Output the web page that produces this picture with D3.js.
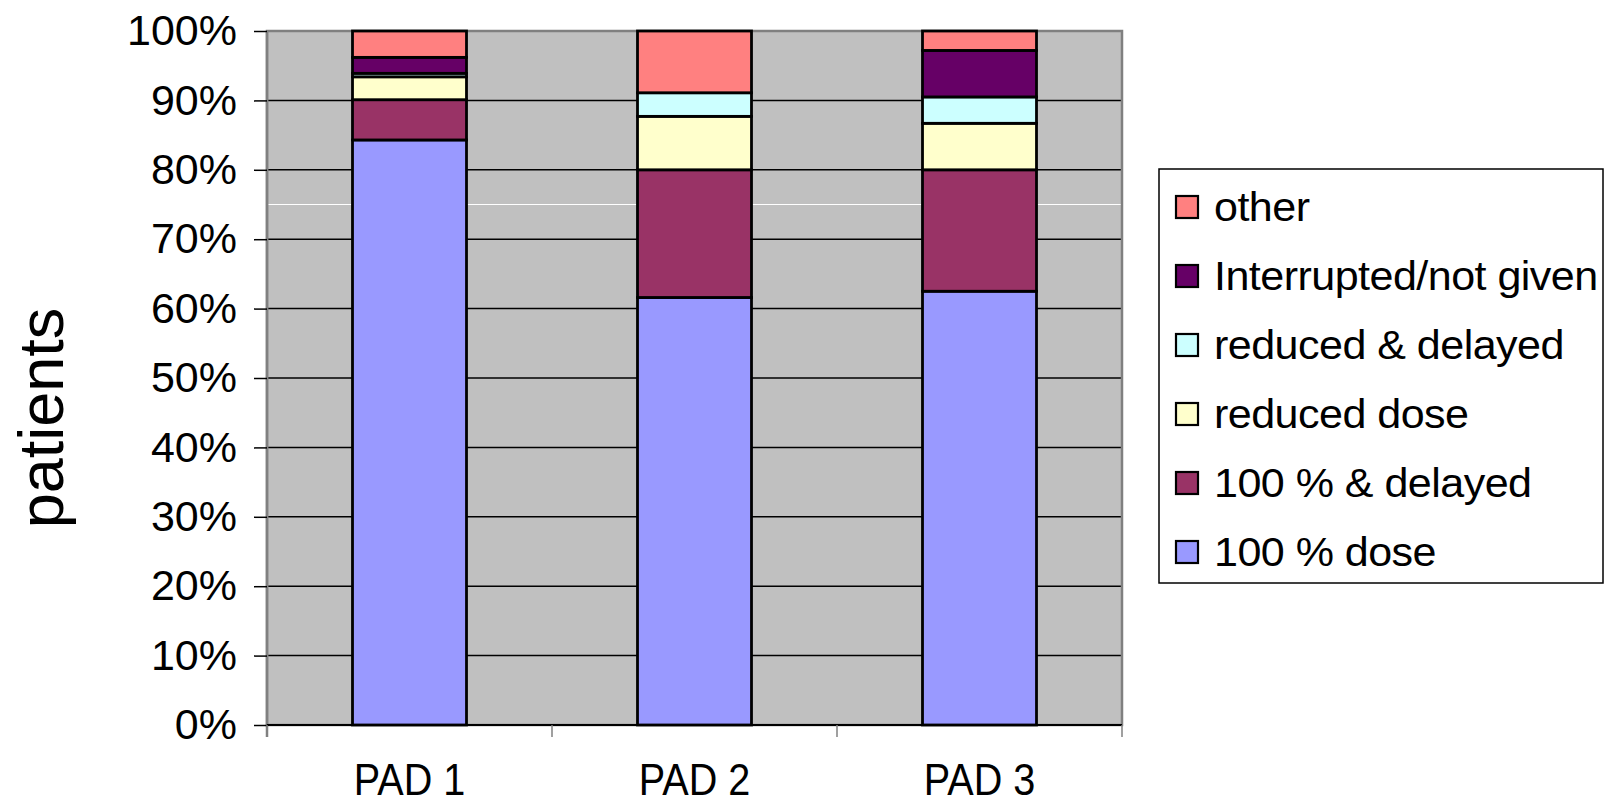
<!DOCTYPE html>
<html>
<head>
<meta charset="utf-8">
<script src="https://cdn.jsdelivr.net/npm/d3@7"></script>
<style>
  html, body { margin: 0; padding: 0; background: #ffffff; }
  svg { display: block; }
  text { font-family: "Liberation Sans", Arial, sans-serif; fill: #000; }
</style>
</head>
<body>
<svg id="chart" width="1610" height="805"></svg>
<script>
// Dose delivery per course, share of patients (%)
const categories = ["PAD 1", "PAD 2", "PAD 3"];
const seriesNames = ["100 % dose", "100 % & delayed", "reduced dose", "reduced & delayed", "Interrupted/not given", "other"];
const fullDose        = [84.3, 61.6, 62.5];
const fullDelayed     = [5.8, 18.4, 17.5];
const reducedDose     = [3.3, 7.7, 6.7];
const reducedDelayed  = [0.5, 3.4, 3.8];
const interrupted     = [2.3, 0.0, 6.7];
const other           = [3.8, 8.9, 2.8];
const yTicks = [0, 10, 20, 30, 40, 50, 60, 70, 80, 90, 100];
const colors = ["#9999ff", "#993366", "#ffffcc", "#ccffff", "#660066", "#ff8080"];

const seriesValues = [fullDose, fullDelayed, reducedDose, reducedDelayed, interrupted, other];
const rows = categories.map((c, i) => {
  const r = { category: c };
  seriesNames.forEach((s, k) => { r[s] = seriesValues[k][i]; });
  return r;
});

const svg = d3.select("#chart");
const plot = { left: 267, right: 1122, top: 31, bottom: 725 };

const x = d3.scaleBand().domain(categories).range([plot.left, plot.right]).padding(0);
const y = d3.scaleLinear().domain([0, 100]).range([plot.bottom, plot.top]);
const barW = x.bandwidth() * 0.4;

// plot background
svg.append("rect")
  .attr("x", plot.left).attr("y", plot.top)
  .attr("width", plot.right - plot.left).attr("height", plot.bottom - plot.top)
  .attr("fill", "#c0c0c0");

// horizontal gridlines
svg.append("g").selectAll("line")
  .data(yTicks.filter(t => t > 0 && t < 100))
  .join("line")
  .attr("x1", plot.left).attr("x2", plot.right)
  .attr("y1", d => y(d)).attr("y2", d => y(d))
  .attr("stroke", "#000").attr("stroke-width", 1.5);

// faint light line at 75%
svg.append("line")
  .attr("x1", plot.left).attr("x2", plot.right)
  .attr("y1", y(75)).attr("y2", y(75))
  .attr("stroke", "#ffffff").attr("stroke-width", 1.2);

// plot frame
svg.append("rect")
  .attr("x", plot.left).attr("y", plot.top)
  .attr("width", plot.right - plot.left).attr("height", plot.bottom - plot.top)
  .attr("fill", "none").attr("stroke", "#808080").attr("stroke-width", 2.5);

// stacked bars
const stacked = d3.stack().keys(seriesNames)(rows);
const layers = svg.append("g").selectAll("g")
  .data(stacked)
  .join("g")
  .attr("fill", (d, i) => colors[i]);

layers.selectAll("rect")
  .data(d => d.filter(p => p[1] - p[0] > 0))
  .join("rect")
  .attr("x", d => x(d.data.category) + (x.bandwidth() - barW) / 2)
  .attr("y", d => y(d[1]))
  .attr("width", barW)
  .attr("height", d => y(d[0]) - y(d[1]))
  .attr("stroke", "#000")
  .attr("stroke-width", 2.8);

// y axis
const yAxis = svg.append("g")
  .attr("transform", `translate(${plot.left},0)`)
  .call(d3.axisLeft(y).tickValues(yTicks).tickFormat(d => d + "%").tickSize(13).tickPadding(17));
yAxis.select(".domain").attr("stroke", "#808080").attr("stroke-width", 2.5)
  .attr("d", `M0,${plot.top}V${plot.bottom + 12}`);
yAxis.selectAll(".tick line").attr("stroke", "#000").attr("stroke-width", 1.5);
yAxis.selectAll(".tick text")
  .attr("font-size", 43)
  .attr("font-family", "Liberation Sans, Arial, sans-serif")
  .attr("fill", "#000");

// x axis
const xAxis = svg.append("g")
  .attr("transform", `translate(0,${plot.bottom})`)
  .call(d3.axisBottom(x).tickSize(0).tickPadding(0));
xAxis.select(".domain").attr("stroke", "#000").attr("stroke-width", 2)
  .attr("d", `M${plot.left},0H${plot.right}`);
xAxis.selectAll(".tick text").remove();
// category separators
svg.append("g").selectAll("line")
  .data(categories.map(c => x(c)).concat([plot.right]))
  .join("line")
  .attr("x1", d => d).attr("x2", d => d)
  .attr("y1", plot.bottom).attr("y2", plot.bottom + 12)
  .attr("stroke", "#808080").attr("stroke-width", 1.5);
// category labels
svg.append("g").selectAll("text")
  .data(categories)
  .join("text")
  .attr("transform", d => `translate(${x(d) + x.bandwidth() / 2},795) scale(0.88,1)`)
  .attr("text-anchor", "middle")
  .attr("font-size", 45)
  .text(d => d);

// y axis title
svg.append("text")
  .attr("transform", "translate(63,418) rotate(-90)")
  .attr("text-anchor", "middle")
  .attr("font-size", 63)
  .text("patients");

// legend
const legend = svg.append("g");
legend.append("rect")
  .attr("x", 1159).attr("y", 169).attr("width", 444).attr("height", 414)
  .attr("fill", "#fff").attr("stroke", "#000").attr("stroke-width", 1.5);
const legendItems = seriesNames.map((s, i) => ({ name: s, color: colors[i] })).reverse();
const rowY = d3.scalePoint().domain(legendItems.map(d => d.name)).range([207, 552]);
const li = legend.selectAll("g.item")
  .data(legendItems)
  .join("g")
  .attr("class", "item")
  .attr("transform", d => `translate(0,${rowY(d.name)})`);
li.append("rect")
  .attr("x", 1176).attr("y", -11).attr("width", 22).attr("height", 22)
  .attr("fill", d => d.color).attr("stroke", "#000").attr("stroke-width", 2.2);
li.append("text")
  .attr("transform", "translate(1214,14) scale(1.05,1)")
  .attr("font-size", 41)
  .attr("letter-spacing", -0.5)
  .text(d => d.name);
</script>
</body>
</html>
